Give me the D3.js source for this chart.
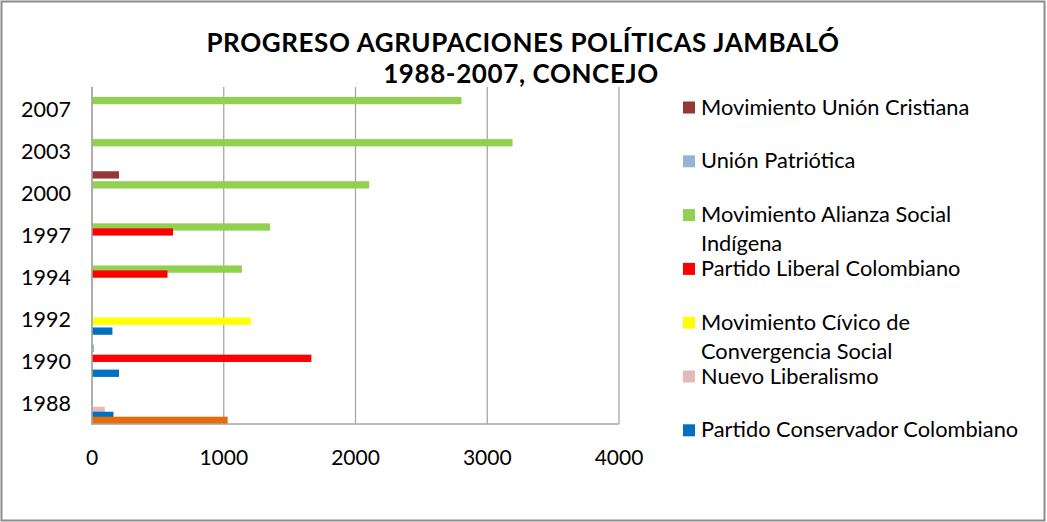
<!DOCTYPE html>
<html>
<head>
<meta charset="utf-8">
<script src="https://cdn.jsdelivr.net/npm/d3@7"></script>
<style>
  body { margin: 0; background: #fff; }
  svg text { font-family: Lato, "Noto Sans", sans-serif; fill: #000; }
</style>
</head>
<body>
<svg width="1047" height="522"></svg>
<script>
// categories (bottom to top)
var years = ["1988", "1990", "1992", "1994", "1997", "2000", "2003", "2007"];

// series values, one per year
var otro        = [1030, 0, 0, 0, 0, 0, 0, 0];
var conservador = [163, 205, 155, 0, 0, 0, 0, 0];
var nuevoLib    = [97, 0, 0, 0, 0, 0, 0, 0];
var civico      = [0, 0, 1207, 0, 0, 0, 0, 0];
var liberal     = [0, 1665, 0, 573, 615, 0, 0, 0];
var alianza     = [0, 0, 0, 1138, 1351, 2104, 3192, 2804];
var up          = [0, 15, 0, 0, 0, 0, 0, 0];
var muc         = [0, 0, 0, 0, 0, 205, 0, 0];

var xTicks = [0, 1000, 2000, 3000, 4000];

// series in Excel order (first = lowest bar in each group)
var series = [
  {name: "Otro", values: otro, color: "#E46C0A", legend: false},
  {name: "Partido Conservador Colombiano", values: conservador, color: "#0070C0", legend: true},
  {name: "Nuevo Liberalismo", values: nuevoLib, color: "#E6B9B8", legend: true},
  {name: "Movimiento Cívico de|Convergencia Social", values: civico, color: "#FFFF00", legend: true},
  {name: "Partido Liberal Colombiano", values: liberal, color: "#FF0000", legend: true},
  {name: "Movimiento Alianza Social|Indígena", values: alianza, color: "#92D050", legend: true},
  {name: "Unión Patriótica", values: up, color: "#95B3D7", legend: true},
  {name: "Movimiento Unión Cristiana", values: muc, color: "#953735", legend: true}
];

var svg = d3.select("svg"),
    margin = {top: 87, left: 92},
    width = 619 - 92,
    height = 424 - 87;

// outer chart border
svg.append("rect")
    .attr("x", 1.5).attr("y", 1.5)
    .attr("width", 1043).attr("height", 519)
    .attr("fill", "#fff")
    .attr("stroke", "#8c8c8c")
    .attr("stroke-width", 2);

var g = svg.append("g").attr("transform", "translate(" + margin.left + "," + margin.top + ")");

var x = d3.scaleLinear()
    .domain([0, 4000])
    .range([0, width]);

var y = d3.scaleBand()
    .domain(years.slice().reverse())
    .range([0, height])
    .padding(0);

var barH = 7.3;
var ySeries = d3.scalePoint()
    .domain(series.map(function(s) { return s.name; }))
    .range([y.bandwidth() - barH, 0]);

// gridlines
g.selectAll(".grid")
  .data(xTicks)
  .enter().append("line")
    .attr("x1", function(d) { return x(d); })
    .attr("x2", function(d) { return x(d); })
    .attr("y1", 0)
    .attr("y2", height)
    .attr("stroke", "#a6a6a6")
    .attr("stroke-width", 1.3);

// bars: draw top series first so lower ones sit on top
series.slice().reverse().forEach(function(s) {
  g.selectAll(null)
    .data(years.map(function(yr, i) { return {year: yr, v: s.values[i]}; })
      .filter(function(d) { return d.v > 0; }))
    .enter().append("rect")
      .attr("x", x(0))
      .attr("y", function(d) { return y(d.year) + ySeries(s.name); })
      .attr("width", function(d) { return x(d.v) - x(0); })
      .attr("height", barH)
      .attr("fill", s.color);
});

// axis lines
g.append("line")
    .attr("x1", 0).attr("x2", 0).attr("y1", 0).attr("y2", height + 1)
    .attr("stroke", "#a6a6a6").attr("stroke-width", 1.5);
g.append("line")
    .attr("x1", 0).attr("x2", width).attr("y1", height).attr("y2", height)
    .attr("stroke", "#a6a6a6").attr("stroke-width", 1.5);

// y labels
g.selectAll(".ylab")
  .data(years)
  .enter().append("text")
    .attr("x", -21)
    .attr("y", function(d) { return y(d) + y.bandwidth() / 2 + 8.5; })
    .attr("text-anchor", "end")
    .attr("font-size", 21.5)
    .text(function(d) { return d; });

// x labels
g.selectAll(".xlab")
  .data(xTicks)
  .enter().append("text")
    .attr("x", function(d) { return x(d); })
    .attr("y", height + 41)
    .attr("text-anchor", "middle")
    .attr("font-size", 21)
    .text(function(d) { return d; });

// title, two lines
svg.append("text")
    .attr("x", 523).attr("y", 51.5)
    .attr("text-anchor", "middle")
    .attr("font-size", 26)
    .attr("letter-spacing", 0.6)
    .attr("font-weight", "bold")
    .text("PROGRESO AGRUPACIONES POLÍTICAS JAMBALÓ");
svg.append("text")
    .attr("x", 521).attr("y", 83)
    .attr("text-anchor", "middle")
    .attr("font-size", 26)
    .attr("letter-spacing", 0.6)
    .attr("font-weight", "bold")
    .text("1988-2007, CONCEJO");

// legend (reverse order, like Excel)
var legendItems = series.filter(function(s) { return s.legend; }).reverse();
var leg = svg.selectAll(".leg")
  .data(legendItems)
  .enter().append("g")
    .attr("transform", function(d, i) { return "translate(683," + (114.5 + i * 53.8) + ")"; });

leg.append("rect")
    .attr("x", 0).attr("y", -13)
    .attr("width", 12).attr("height", 12)
    .attr("fill", function(d) { return d.color; });

leg.append("text")
    .attr("font-size", 21.8)
    .each(function(d) {
      var t = d3.select(this);
      d.name.split("|").forEach(function(line, j) {
        t.append("tspan").attr("x", 18).attr("y", j * 29).text(line);
      });
    });
</script>
</body>
</html>
